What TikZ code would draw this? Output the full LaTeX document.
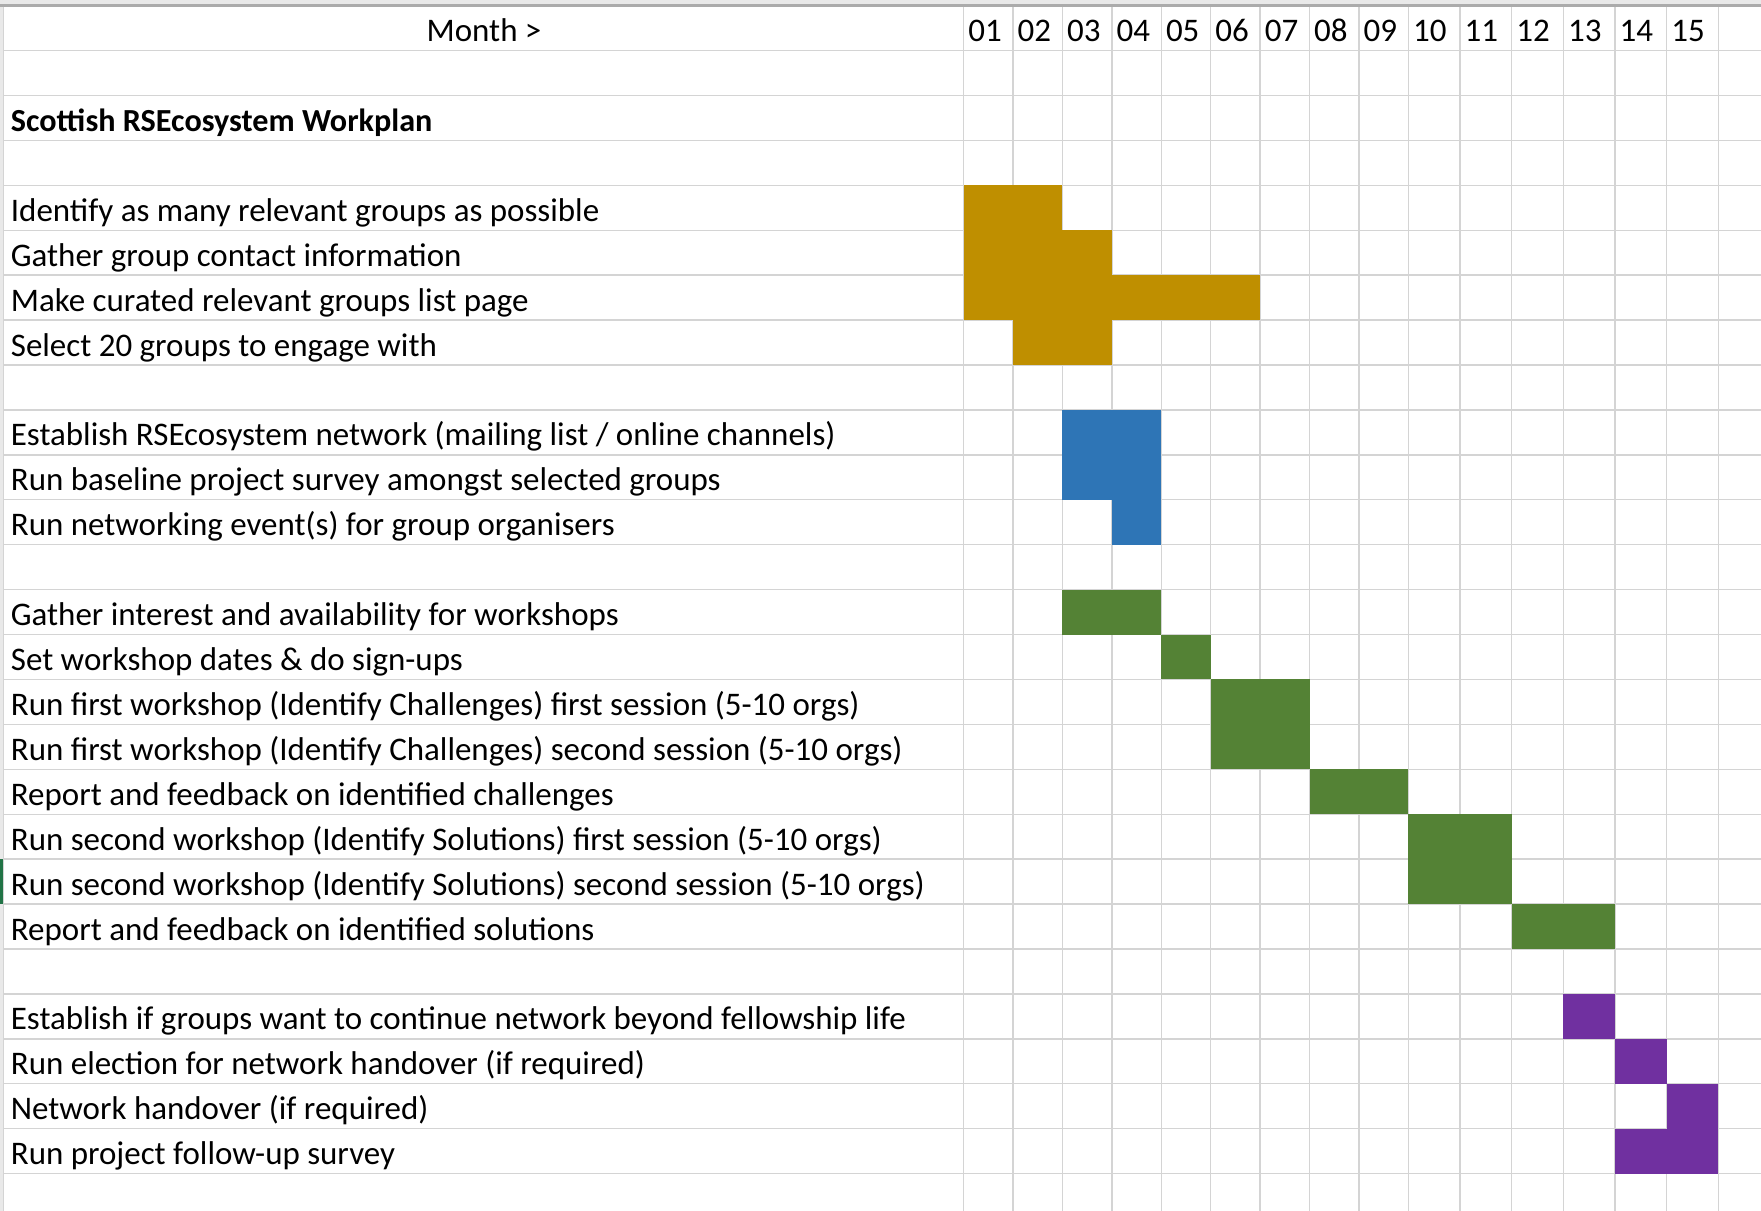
\documentclass[tikz,border=0pt]{standalone}
\usepackage{fontspec}
\setmainfont{Carlito}
\usepackage{tikz}
\definecolor{gridgray}{HTML}{D4D4D4}
\definecolor{edgegray}{HTML}{ABABAB}
\definecolor{headgray}{HTML}{E9E9E9}
\definecolor{barGold}{HTML}{BF8F00}
\definecolor{barBlue}{HTML}{2E75B6}
\definecolor{barGreen}{HTML}{548235}
\definecolor{barPurple}{HTML}{7030A0}
\definecolor{selGreen}{HTML}{217346}

\begin{document}
\begin{tikzpicture}[x=0.1mm, y=-0.1mm, cell/.style={font=\fontsize{8.35}{10}\selectfont, inner sep=0pt, anchor=base west}, gridline/.style={draw=gridgray, line width=0.35pt}]
  \useasboundingbox (0,0) rectangle (1568,1078);
  \fill[white] (0,0) rectangle (1568,1078);
  % sheet edge
  \fill[headgray] (0,0) rectangle (1568,4);
  \fill[headgray] (0,0) rectangle (2.5,1078);
  % column and row positions
  \foreach \x [count=\i from 0] in {858,902,946,990,1034,1078,1122,1166,1210,1254,1300,1346,1392,1438,1484,1530}
    \coordinate (c\i) at (\x,5);
  \foreach \i in {0,...,26}
    \coordinate (r\i) at (3,5+40*\i);
  % grid
  \foreach \i in {1,...,26}
    \draw[gridline] (r\i) -- (1568,5+40*\i);
  \foreach \i in {0,...,15}
    \draw[gridline] (c\i) -- ++(0,1073);
  \draw[gridline] (r0) -- (3,1078);
  \draw[draw=edgegray, line width=0.8pt] (0,5) -- (1568,5);
  \draw[selGreen, line width=1pt] (1,765) -- (1,805);
  % bars
  \foreach \l/\r/\t/\b in {0/2/4/5, 0/3/5/6, 0/6/6/7, 1/3/7/8}
    \fill[barGold] (c\l |- r\t) rectangle (c\r |- r\b);
  \foreach \l/\r/\t/\b in {2/4/9/11, 3/4/11/12}
    \fill[barBlue] (c\l |- r\t) rectangle (c\r |- r\b);
  \foreach \l/\r/\t/\b in {2/4/13/14, 4/5/14/15, 5/7/15/17, 7/9/17/18, 9/11/18/20, 11/13/20/21}
    \fill[barGreen] (c\l |- r\t) rectangle (c\r |- r\b);
  \foreach \l/\r/\t/\b in {12/13/22/23, 13/14/23/24, 14/15/24/26, 13/14/25/26}
    \fill[barPurple] (c\l |- r\t) rectangle (c\r |- r\b);
  % header
  \node[cell, anchor=base] (month) at (431,37) {Month >};
  \foreach \m [count=\i from 0] in {01,02,03,04,05,06,07,08,09,10,11,12,13,14,15}
    \node[cell] (m\m) at ([xshift=0.35mm, yshift=-3.2mm]c\i) {\m};
  \node[cell, font=\fontsize{8.15}{10}\selectfont\bfseries] (title) at (9,117) {Scottish RSEcosystem Workplan};
  % tasks
  \foreach \r/\txt in {4/{Identify as many relevant groups as possible},
      5/{Gather group contact information},
      6/{Make curated relevant groups list page},
      7/{Select 20 groups to engage with},
      9/{Establish RSEcosystem network (mailing list / online channels)},
      10/{Run baseline project survey amongst selected groups},
      11/{Run networking event(s) for group organisers},
      13/{Gather interest and availability for workshops},
      14/{Set workshop dates \& do sign-ups},
      15/{Run first workshop (Identify Challenges) first session (5-10 orgs)},
      16/{Run first workshop (Identify Challenges) second session (5-10 orgs)},
      17/{Report and feedback on identified challenges},
      18/{Run second workshop (Identify Solutions) first session (5-10 orgs)},
      19/{Run second workshop (Identify Solutions) second session (5-10 orgs)},
      20/{Report and feedback on identified solutions},
      22/{Establish if groups want to continue network beyond fellowship life},
      23/{Run election for network handover (if required)},
      24/{Network handover (if required)},
      25/{Run project follow-up survey}}
    \node[cell] (task\r) at (9,37+40*\r) {\txt};
\end{tikzpicture}
\end{document}
